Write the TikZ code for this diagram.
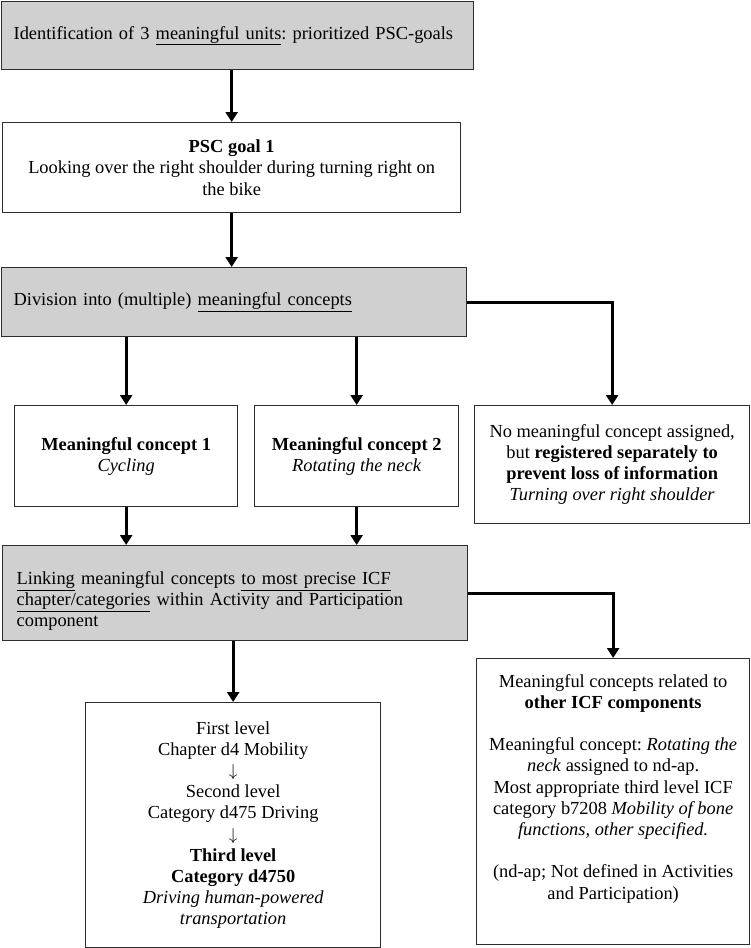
\documentclass[tikz,border=0pt]{standalone}
\usepackage{fontspec}
\setmainfont{Liberation Serif}
\usetikzlibrary{arrows.meta}
\definecolor{boxgray}{RGB}{208,208,208}
\definecolor{edgecol}{RGB}{45,45,45}
\frenchspacing
\begin{document}
\begin{tikzpicture}[x=1pt,y=-1pt,
  every node/.style={font=\fontsize{18.4}{21.2}\selectfont},
  box/.style={draw=edgecol, line width=1.3pt, rectangle, inner sep=0pt, anchor=north west},
  graybox/.style={box, fill=boxgray},
  conn/.style={line width=3pt, -{Triangle[length=10pt,width=12pt]}}]
\useasboundingbox (0,0) rectangle (750,948);

\node[graybox, minimum width=472pt, minimum height=68pt, text width=448pt, align=left] (top) at (1,1)
  {Identification of 3 \underline{meaningful units}: prioritized PSC-goals};

\node[box, minimum width=458pt, minimum height=90pt, align=center] (psc) at (2,122)
  {\textbf{PSC goal 1}\\Looking over the right shoulder during turning right on\\the bike};

\node[graybox, minimum width=465pt, minimum height=69pt, text width=441pt, align=left] (div) at (1,267)
  {Division into (multiple) \underline{meaningful concepts}};

\node[box, minimum width=223pt, minimum height=101pt, align=center] (c1) at (14,405)
  {\textbf{Meaningful concept 1}\\\textit{Cycling}};

\node[box, minimum width=204pt, minimum height=101pt, align=center] (c2) at (254,405)
  {\textbf{Meaningful concept 2}\\\textit{Rotating the neck}};

\node[box, minimum width=275pt, minimum height=118pt, align=center] (c3) at (474,405)
  {No meaningful concept assigned,\\but \textbf{registered separately to}\\\textbf{prevent loss of information}\\\textit{Turning over right shoulder}};

\node[graybox, minimum width=465pt, minimum height=95pt, text width=437pt, align=left] (link) at (2,545)
  {\rule{0pt}{29pt}\underline{Linking} meaningful concepts \underline{to most precise ICF}\\\underline{chapter/categories} within Activity and Participation\\component};

\node[box, minimum width=295pt, minimum height=245pt, align=center] (bot) at (85,702)
  {First level\\Chapter d4 Mobility\\$\downarrow$\\Second level\\Category d475 Driving\\$\downarrow$\\\textbf{Third level}\\\textbf{Category d4750}\\\textit{Driving human-powered}\\\textit{transportation}};

\node[box, minimum width=273pt, minimum height=286pt, align=center] (right) at (476,658)
  {Meaningful concepts related to\\\textbf{other ICF components}\\[21.2pt]Meaningful concept: \textit{Rotating the}\\\textit{neck} assigned to nd-ap.\\Most appropriate third level ICF\\category b7208 \textit{Mobility of bone}\\\textit{functions, other specified.}\\[21.2pt](nd-ap; Not defined in Activities\\and Participation)\rule[-30pt]{0pt}{30pt}};

\draw[conn] (psc.north |- top.south) -- (psc.north);
\draw[conn] (psc.south) -- (psc.south |- div.north);
\draw[conn] (c1.north |- div.south) -- (c1.north);
\draw[conn] (c2.north |- div.south) -- (c2.north);
\draw[conn] (div.east) -| (c3.north);
\draw[conn] (c1.south) -- (c1.south |- link.north);
\draw[conn] (c2.south) -- (c2.south |- link.north);
\draw[conn] (link.east) -| (right.north);
\draw[conn] (bot.north |- link.south) -- (bot.north);
\end{tikzpicture}
\end{document}
